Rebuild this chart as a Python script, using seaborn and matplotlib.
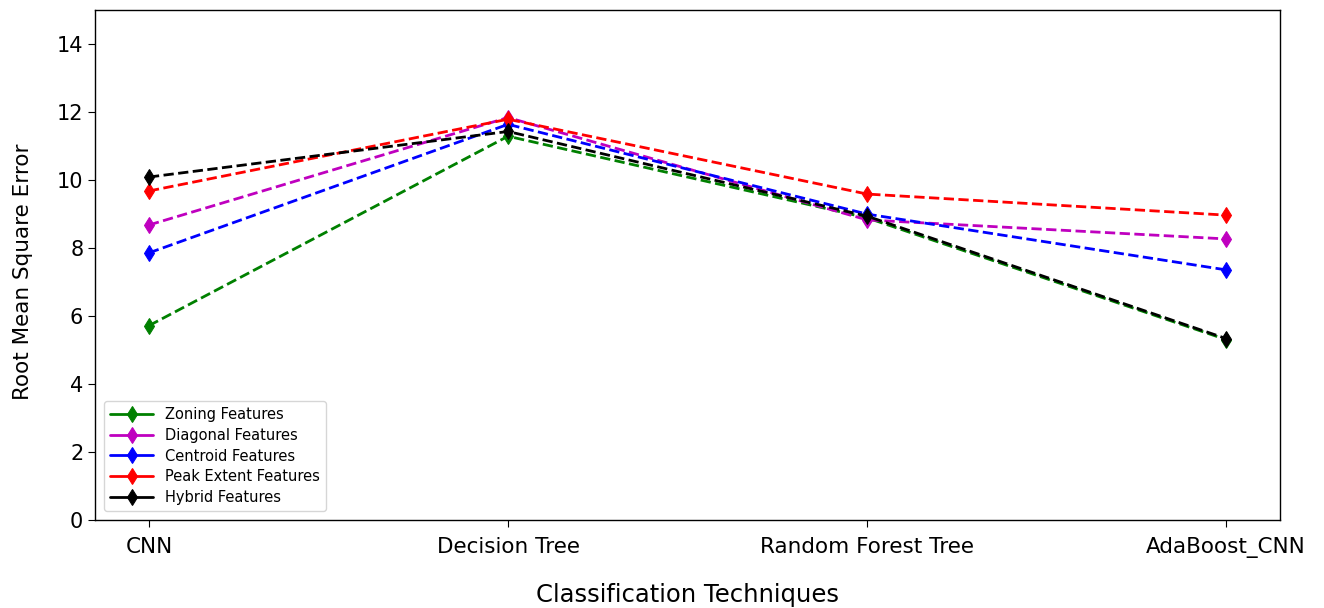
import matplotlib
matplotlib.use("Agg")
import matplotlib.pyplot as plt
import seaborn as sns
import pandas as pd

techniques = ["CNN", "Decision Tree", "Random Forest Tree", "AdaBoost_CNN"]
zoning = [5.71, 11.28, 8.88, 5.30]
diagonal = [8.67, 11.83, 8.82, 8.26]
centroid = [7.85, 11.63, 8.99, 7.35]
peak_extent = [9.67, 11.78, 9.58, 8.96]
hybrid = [10.08, 11.42, 8.93, 5.33]

series_names = ["Zoning Features", "Diagonal Features", "Centroid Features",
                "Peak Extent Features", "Hybrid Features"]
series_values = [zoning, diagonal, centroid, peak_extent, hybrid]
colors = ["green", "m", "blue", "red", "black"]

sns.set_style("white")
plt.rcParams['font.family'] = ['DejaVu Sans']
plt.rcParams['text.color'] = 'black'
plt.rcParams['axes.labelcolor'] = 'black'
plt.rcParams['xtick.color'] = 'black'
plt.rcParams['ytick.color'] = 'black'

fig = plt.figure(figsize=(13.24, 6.08), dpi=100)
ax = fig.add_axes([0.0718, 0.145, 0.895, 0.839])

for name, vals, c in zip(series_names, series_values, colors):
    df = pd.DataFrame({"x": list(range(len(techniques))), "y": vals})
    sns.lineplot(data=df, x="x", y="y", ax=ax, color=c, marker="d",
                 markersize=8, markeredgecolor=c, linewidth=2,
                 linestyle="--", label=name)

ax.set_xticks(range(len(techniques)))
ax.set_xticklabels(techniques, fontsize=15.5)
ax.set_xlim(-0.15, 3.15)
ax.set_ylim(0, 15)
ax.set_yticks([0, 2, 4, 6, 8, 10, 12, 14])
ax.tick_params(axis='y', labelsize=15, left=True, length=5, color='black')
ax.tick_params(axis='x', bottom=True, length=5, color='black', pad=7)
ax.set_xlabel("Classification Techniques", fontsize=17.5, labelpad=18)
ax.set_ylabel("Root Mean Square Error", fontsize=15.5)
ax.yaxis.set_label_coords(-0.052, 0.486)
for s in ax.spines.values():
    s.set_color("black")
    s.set_linewidth(1.0)

leg = ax.legend(loc="lower left", fontsize=10.5, frameon=True, handlelength=3.0,
                borderaxespad=0.6, labelspacing=0.4)
for h in leg.legend_handles:
    h.set_linestyle("-")

fig.savefig("out.png", dpi=100)
